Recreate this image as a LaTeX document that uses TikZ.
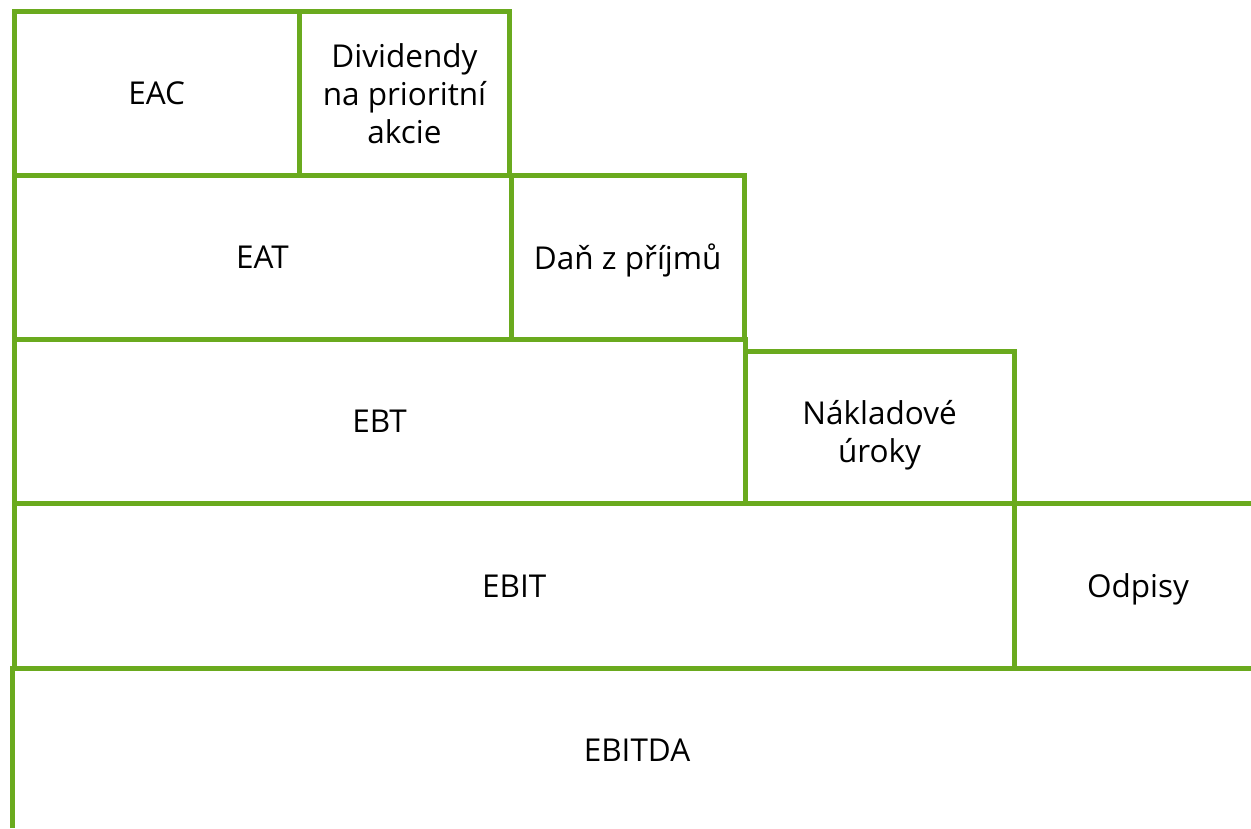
\documentclass[tikz,border=0pt]{standalone}
\usepackage{fontspec}
\setmainfont{Open Sans}
\definecolor{grn}{RGB}{106,170,30}
\begin{document}
\begin{tikzpicture}[x=1pt,y=1pt,
  txt/.style={inner sep=0pt, outer sep=0pt, align=center, font=\fontsize{31.5}{38}\selectfont},
  box/.style={txt, draw=grn, line width=5pt},
  edge/.style={draw=grn, line width=5pt}]
\useasboundingbox (0,0) rectangle (1251,-828);
% row 1
\node[box, minimum width=285.5pt, minimum height=163.5pt] (eac) at (156.75,-93.25) {EAC};
\node[box, minimum width=210pt, minimum height=163.5pt] (div) at (404.5,-93.25) {Dividendy\\na prioritní\\akcie};
% row 2
\node[box, minimum width=497pt, minimum height=164pt] (eat) at (262.5,-257) {EAT};
\node[box, minimum width=233.5pt, minimum height=164pt, text depth=0pt] (dan) at (627.75,-257) {Daň z příjmů};
% row 3
\node[box, minimum width=731pt, minimum height=164.5pt] (ebt) at (379.5,-421.25) {EBT};
\node[box, minimum width=269pt, minimum height=152pt] (nak) at (879.5,-427.5) {};
\node[txt] (naktxt) at (879.5,-435) {Nákladové\\úroky};
% row 4
\node[box, minimum width=1000.5pt, minimum height=164.5pt] (ebit) at (514.25,-585.75) {EBIT};
\node[txt, text depth=0pt] (odp) at (1138,-585.75) {Odpisy};
\coordinate (odpT) at (1251,-503.5);
\coordinate (odpB) at (1251,-668);
\draw[edge] (ebit.north east) -- (odpT);
\draw[edge] (ebit.south east) -- (odpB);
% row 5
\node[txt] (ebitda) at (637,-750) {EBITDA};
\coordinate (bl) at (12.5,-828);
\coordinate (tl) at (12.5,-668);
\coordinate (tr) at (1251,-668);
\draw[edge] (bl) -- (tl) -- (tr);
\end{tikzpicture}
\end{document}
